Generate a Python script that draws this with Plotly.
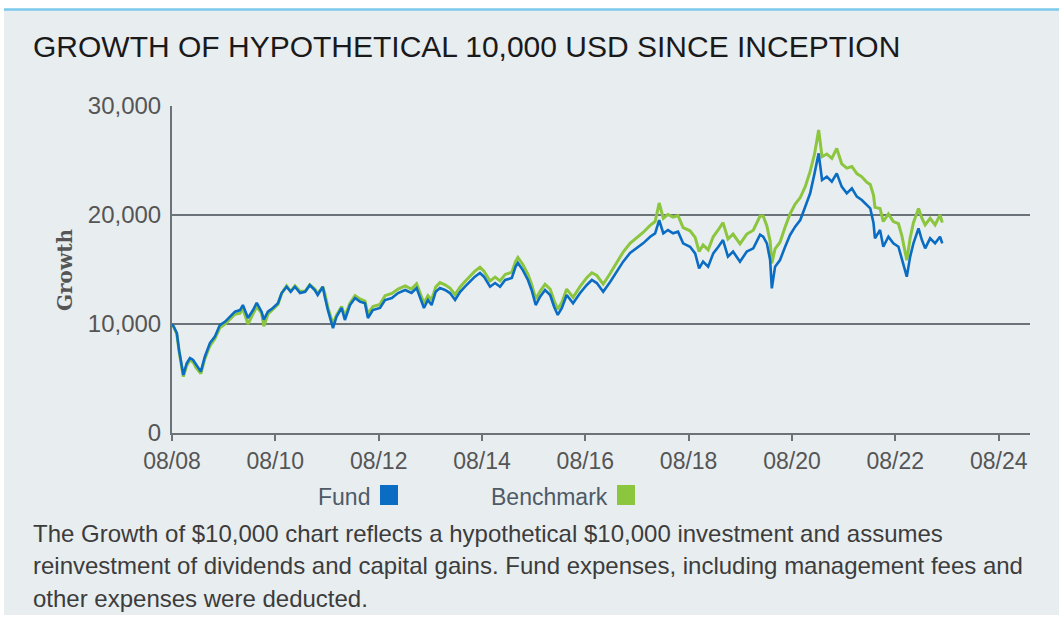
import plotly.graph_objects as go

# ---------------- data ----------------
dates = [
    "2008-08-04", "2008-09-04", "2008-09-20", "2008-10-09", "2008-10-20", "2008-11-13",
    "2008-12-06", "2008-12-28", "2009-01-18", "2009-02-21", "2009-03-21", "2009-04-26",
    "2009-05-31", "2009-07-05", "2009-08-10", "2009-09-15", "2009-10-20", "2009-11-25",
    "2009-12-15", "2010-01-20", "2010-02-25", "2010-03-23", "2010-04-26", "2010-05-12",
    "2010-06-10", "2010-07-15", "2010-08-20", "2010-09-15", "2010-10-20", "2010-11-18",
    "2010-12-18", "2011-01-23", "2011-02-28", "2011-04-02", "2011-05-07", "2011-05-28",
    "2011-07-03", "2011-07-17", "2011-08-08", "2011-09-13", "2011-10-08", "2011-11-13",
    "2011-12-06", "2012-01-11", "2012-02-16", "2012-03-21", "2012-04-26", "2012-05-17",
    "2012-06-21", "2012-08-10", "2012-09-15", "2012-11-02", "2012-12-16", "2013-02-04",
    "2013-03-21", "2013-04-26", "2013-05-19", "2013-06-17", "2013-07-15", "2013-08-10",
    "2013-09-08", "2013-10-08", "2013-11-13", "2013-12-18", "2014-01-23", "2014-02-28",
    "2014-04-03", "2014-05-08", "2014-06-12", "2014-07-18", "2014-08-15", "2014-09-27",
    "2014-11-02", "2014-12-07", "2015-01-12", "2015-02-28", "2015-03-27", "2015-04-12",
    "2015-05-17", "2015-06-22", "2015-07-18", "2015-08-16", "2015-09-16", "2015-10-21",
    "2015-11-26", "2015-12-24", "2016-01-19", "2016-02-17", "2016-03-22", "2016-05-06",
    "2016-06-25", "2016-08-11", "2016-09-16", "2016-10-21", "2016-12-05", "2017-01-24",
    "2017-03-11", "2017-04-25", "2017-06-13", "2017-07-30", "2017-09-13", "2017-11-02",
    "2017-12-07", "2018-01-05", "2018-02-03", "2018-03-08", "2018-04-13", "2018-05-18",
    "2018-06-23", "2018-08-11", "2018-09-16", "2018-10-14", "2018-11-11", "2018-12-17",
    "2019-01-22", "2019-02-27", "2019-04-01", "2019-05-06", "2019-06-11", "2019-07-30",
    "2019-09-16", "2019-11-01", "2019-12-19", "2020-01-10", "2020-02-05", "2020-02-28",
    "2020-03-11", "2020-04-03", "2020-05-08", "2020-06-13", "2020-07-18", "2020-08-23",
    "2020-09-28", "2020-11-02", "2020-12-07", "2021-01-07", "2021-02-05", "2021-03-01",
    "2021-04-04", "2021-05-09", "2021-06-13", "2021-07-18", "2021-08-23", "2021-09-28",
    "2021-11-02", "2021-12-07", "2022-01-12", "2022-02-05", "2022-02-28", "2022-03-10",
    "2022-04-15", "2022-05-08", "2022-06-13", "2022-07-18", "2022-08-23", "2022-09-16",
    "2022-10-21", "2022-11-14", "2022-12-07", "2023-01-12", "2023-02-05", "2023-02-28",
    "2023-04-04", "2023-05-09", "2023-06-13", "2023-06-29",
]

fund = [
    10000, 9170, 7600, 6080, 5320, 6400,
    6880, 6700, 6240, 5630, 7000, 8250,
    8840, 9900, 10200, 10670, 11130, 11280,
    11740, 10550, 11280, 11950, 11130, 10400,
    11130, 11470, 11900, 12840, 13420, 12960,
    13420, 12840, 12960, 13580, 13120, 12660,
    13420, 12500, 11280, 9630, 10670, 11470,
    10370, 11740, 12380, 12050, 11900, 10550,
    11280, 11470, 12200, 12380, 12840, 13120,
    12840, 13300, 12500, 11470, 12200, 11740,
    12960, 13300, 13120, 12840, 12200, 12960,
    13420, 13880, 14340, 14680, 14340, 13420,
    13760, 13420, 14040, 14220, 15260, 15600,
    14950, 14040, 13120, 11740, 12500, 13120,
    12660, 11590, 10830, 11470, 12660, 11900,
    12840, 13580, 14040, 13760, 12960, 13880,
    14800, 15720, 16510, 16940, 17400, 18010,
    18320, 19540, 18320, 18620, 18320, 18470,
    17400, 17090, 16480, 15110, 15720, 15260,
    16480, 17090, 17700, 16180, 16640, 15720,
    16640, 16940, 18200, 18010, 17400, 15870,
    13270, 15260, 15870, 17090, 18170, 18930,
    19540, 20760, 21990, 23820, 25660, 23210,
    23520, 23060, 23820, 22600, 21990, 22450,
    21680, 21380, 20920, 20610, 19240, 17860,
    18620, 17090, 18010, 17400, 17090, 15870,
    14340, 16180, 17400, 18780, 17700, 16940,
    17860, 17400, 18010, 17400,
]

benchmark = [
    10000, 9100, 7500, 5900, 5170, 6200,
    6700, 6500, 6000, 5450, 6800, 8000,
    8650, 9650, 10000, 10450, 10900, 11000,
    11400, 10000, 10900, 11600, 11000, 9800,
    10900, 11300, 11800, 12800, 13500, 13000,
    13500, 13000, 13000, 13600, 13200, 12800,
    13400, 12800, 11500, 10000, 10800, 11600,
    10700, 11900, 12600, 12300, 12100, 10900,
    11600, 11800, 12600, 12800, 13200, 13500,
    13200, 13700, 12900, 11900, 12600, 12200,
    13400, 13800, 13600, 13300, 12700, 13400,
    13900, 14400, 14850, 15200, 14850, 13950,
    14300, 13950, 14550, 14750, 15750, 16100,
    15450, 14550, 13650, 12300, 13000, 13650,
    13200, 12150, 11350, 12000, 13200, 12450,
    13450, 14250, 14700, 14450, 13650, 14650,
    15600, 16600, 17400, 17900, 18400, 19050,
    19400, 21100, 19700, 20050, 19800, 19950,
    18850, 18550, 17950, 16650, 17250, 16800,
    18000, 18650, 19300, 17800, 18250, 17350,
    18250, 18600, 19900, 19900, 19000, 17600,
    15570, 16900, 17500, 18900, 20100, 21000,
    21600, 22600, 24000, 25600, 27800, 25350,
    25600, 25200, 26100, 24700, 24300, 24450,
    23800, 23500, 23000, 22800, 21800, 20700,
    20600, 19400, 20100, 19400, 19200, 18100,
    15850, 17900, 19300, 20600, 19700, 19100,
    19700, 19100, 20000, 19300,
]

series_names = ["Fund", "Benchmark"]
series_colors = ["#0a6cc2", "#8cc63f"]

title_text = "GROWTH OF HYPOTHETICAL 10,000 USD SINCE INCEPTION"
y_title = "Growth"
footnote_lines = [
    "The Growth of $10,000 chart reflects a hypothetical $10,000 investment and assumes",
    "reinvestment of dividends and capital gains. Fund expenses, including management fees and",
    "other expenses were deducted.",
]

# ---------------- layout geometry ----------------
W, H = 1059, 621
L, R, T, B = 172, 29, 106, 188
PW, PH = W - L - R, H - T - B


def px(x):
    return (x - L) / PW


def py(y):
    return (H - B - y) / PH


BG = "#e8edf0"
GRID = "#6b7378"
TICKC = "#555555"

fig = go.Figure()
fig.add_trace(go.Scatter(x=dates, y=benchmark, mode="lines", name=series_names[1],
                         line=dict(color=series_colors[1], width=3), showlegend=False))
fig.add_trace(go.Scatter(x=dates, y=fund, mode="lines", name=series_names[0],
                         line=dict(color=series_colors[0], width=2.6), showlegend=False))

shapes = [
    dict(type="rect", xref="paper", yref="paper", x0=px(4), x1=px(W + 2), y0=py(615), y1=py(10),
         fillcolor=BG, line=dict(width=0), layer="below"),
    dict(type="line", xref="paper", yref="paper", x0=px(4), x1=px(W + 2), y0=py(9.5), y1=py(9.5),
         line=dict(color="#7cc9ec", width=2.5)),
    # legend swatches (after the labels, as in the reference)
    dict(type="rect", xref="paper", yref="paper", x0=px(380), x1=px(398), y0=py(505), y1=py(485),
         fillcolor=series_colors[0], line=dict(width=0)),
    dict(type="rect", xref="paper", yref="paper", x0=px(617), x1=px(635), y0=py(505), y1=py(485),
         fillcolor=series_colors[1], line=dict(width=0)),
]

annotations = [
    dict(text=title_text, xref="paper", yref="paper", x=px(31), y=py(46), xanchor="left",
         yanchor="middle", showarrow=False, font=dict(family="Liberation Sans", size=30, color="#1a1a1a")),
    dict(text="<b>" + y_title + "</b>", xref="paper", yref="paper", x=px(65), y=py(270), textangle=-90,
         xanchor="center", yanchor="middle", showarrow=False,
         font=dict(family="DejaVu Serif", size=20, color="#555555")),
    dict(text=series_names[0], xref="paper", yref="paper", x=px(372), y=py(497), xanchor="right",
         yanchor="middle", showarrow=False, font=dict(family="Liberation Sans", size=23, color="#4e5a66")),
    dict(text=series_names[1], xref="paper", yref="paper", x=px(610), y=py(497), xanchor="right",
         yanchor="middle", showarrow=False, font=dict(family="Liberation Sans", size=23, color="#4e5a66")),
]
for line_text, yc in zip(footnote_lines, [533, 565, 598]):
    annotations.append(dict(text=line_text, xref="paper", yref="paper", x=px(31), y=py(yc),
                            xanchor="left", yanchor="middle", showarrow=False,
                            font=dict(family="Liberation Sans", size=24, color="#3c3c3c")))

fig.update_layout(
    width=W, height=H,
    margin=dict(l=L, r=R, t=T, b=B, pad=0),
    paper_bgcolor="white",
    plot_bgcolor=BG,
    showlegend=False,
    hovermode=False,
    shapes=shapes,
    annotations=annotations,
    font=dict(family="Liberation Sans", size=23, color=TICKC),
)

fig.update_xaxes(
    type="date",
    range=["2008-08-01", "2025-03-10"],
    tick0="2008-08-01", dtick="M24", tickformat="%m/%y",
    ticks="outside", ticklen=6, tickwidth=1.5, tickcolor=GRID,
    minor=dict(tick0="2008-08-01", dtick="M24", ticks="outside", ticklen=12,
               tickwidth=1.5, tickcolor=GRID, showgrid=False),
    showline=True, linecolor=GRID, linewidth=2,
    showgrid=False, zeroline=False,
    tickfont=dict(family="Liberation Sans", size=23, color=TICKC),
)
fig.update_yaxes(
    range=[0, 30000], dtick=10000, tickformat=",",
    showline=True, linecolor=GRID, linewidth=2,
    showgrid=True, gridcolor=GRID, gridwidth=1.8,
    zeroline=False, ticks="", ticklabelstandoff=4,
    tickfont=dict(family="Liberation Sans", size=24, color=TICKC),
)

fig.write_html("out.html", config={"displayModeBar": False},
               post_script="document.body.style.margin='0px';")
